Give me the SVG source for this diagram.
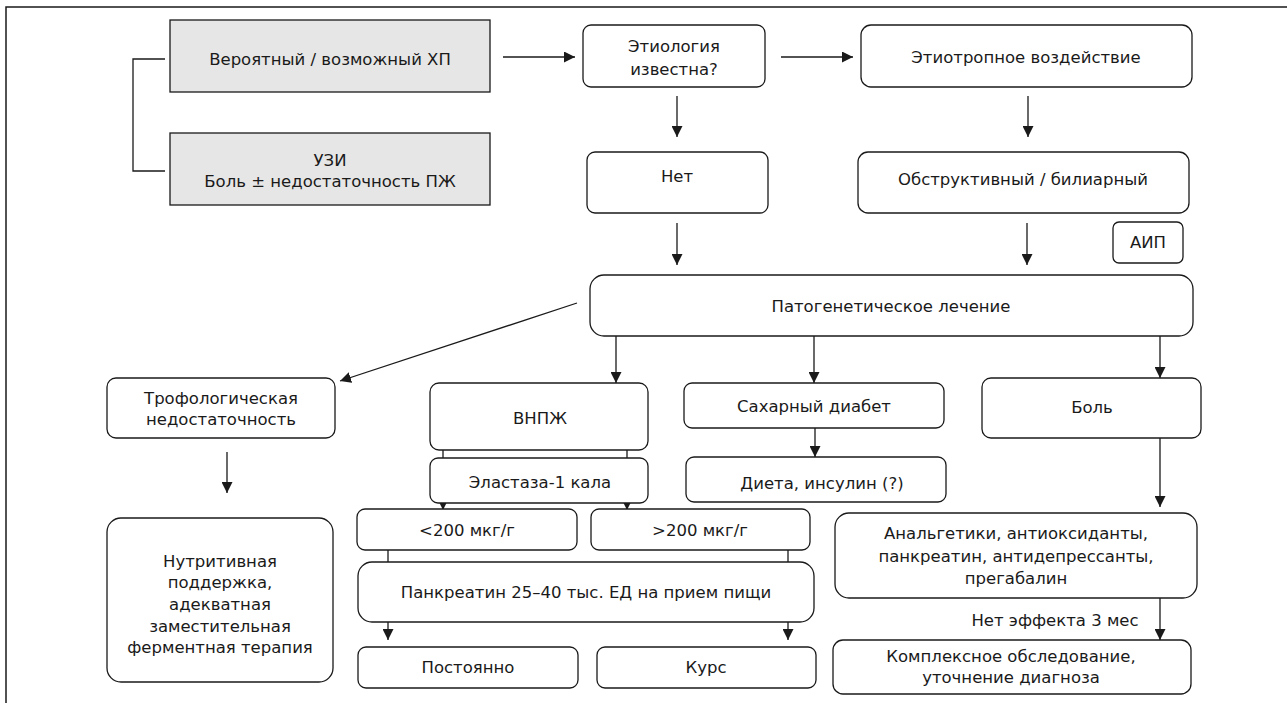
<svg xmlns="http://www.w3.org/2000/svg" width="1287" height="703" viewBox="0 0 1287 703">
<style>
.box{fill:#fff;stroke:#1a1a1a;stroke-width:1.3}
.gray{fill:#e6e6e6;stroke:#1a1a1a;stroke-width:1.3}
.t{font-family:"DejaVu Sans","Liberation Sans",sans-serif;font-size:16.5px;fill:#1a1a1a;text-anchor:middle}
.c{fill:none;stroke:#1a1a1a;stroke-width:1.3}
.a{fill:none;stroke:#1a1a1a;stroke-width:1.3;marker-end:url(#ah)}
</style>
<defs>
<marker id="ah" viewBox="0 0 10 10" refX="10" refY="5" markerWidth="11" markerHeight="11" markerUnits="userSpaceOnUse" orient="auto">
<path d="M0,0 L10,5 L0,10 z" fill="#1a1a1a"/>
</marker>
</defs>
<path d="M6,703 V7 H1287" fill="none" stroke="#1a1a1a" stroke-width="1.5"/>

<g id="connectors">
<path class="c" d="M165,59 H133 V171 H165"/>
<path class="a" d="M503,57 H575"/>
<path class="a" d="M781,57 H853"/>
<path class="a" d="M677,96 V137"/>
<path class="a" d="M1028,96 V137"/>
<path class="a" d="M677,223 V265"/>
<path class="a" d="M1027,223 V265"/>
<path class="a" d="M577,303 L340,381"/>
<path class="a" d="M227,452 V493"/>
<path class="a" d="M616,336 V383"/>
<path class="a" d="M814,336 V383"/>
<path class="a" d="M1160,336 V378"/>
<path class="c" d="M443,450 V458 M627,450 V458"/>
<path class="a" d="M443,503 V510"/>
<path class="a" d="M627,503 V510"/>
<path class="a" d="M815,428 V457"/>
<path class="c" d="M388,550 V562 M788,550 V562"/>
<path class="a" d="M388,622 V640"/>
<path class="a" d="M788,622 V640"/>
<path class="a" d="M1160,438 V507"/>
<path class="a" d="M1160,598 V640"/>
<text class="t" x="1055" y="626">Нет эффекта 3 мес</text>
</g>

<g id="n-probable">
<rect class="gray" x="170" y="20" width="320" height="72"/>
<text class="t" x="330" y="65">Вероятный / возможный ХП</text>
</g>
<g id="n-uzi">
<rect class="gray" x="170" y="133" width="320" height="72"/>
<text class="t" x="330" y="166">УЗИ</text>
<text class="t" x="330" y="187">Боль ± недостаточность ПЖ</text>
</g>
<g id="n-etiology">
<rect class="box" x="583" y="25" width="182" height="62" rx="8"/>
<text class="t" x="674" y="52">Этиология</text>
<text class="t" x="674" y="75">известна?</text>
</g>
<g id="n-etiotrop">
<rect class="box" x="861" y="25" width="331" height="62" rx="10"/>
<text class="t" x="1026" y="63">Этиотропное воздействие</text>
</g>
<g id="n-net">
<rect class="box" x="587" y="152" width="181" height="61" rx="8"/>
<text class="t" x="677" y="182">Нет</text>
</g>
<g id="n-obstr">
<rect class="box" x="858" y="152" width="331" height="61" rx="10"/>
<text class="t" x="1023" y="185">Обструктивный / билиарный</text>
</g>
<g id="n-aip">
<rect class="box" x="1113" y="222" width="70" height="41" rx="6"/>
<text class="t" x="1148" y="248">АИП</text>
</g>
<g id="n-patogen">
<rect class="box" x="590" y="275" width="603" height="61" rx="14"/>
<text class="t" x="891" y="312">Патогенетическое лечение</text>
</g>
<g id="n-trof">
<rect class="box" x="107" y="378" width="228" height="60" rx="9"/>
<text class="t" x="221" y="404">Трофологическая</text>
<text class="t" x="221" y="425">недостаточность</text>
</g>
<g id="n-nutr">
<rect class="box" x="107" y="518" width="226" height="164" rx="14"/>
<text class="t" x="220" y="567">Нутритивная</text>
<text class="t" x="220" y="588">поддержка,</text>
<text class="t" x="220" y="610">адекватная</text>
<text class="t" x="220" y="632">заместительная</text>
<text class="t" x="220" y="653">ферментная терапия</text>
</g>
<g id="n-vnpzh">
<rect class="box" x="430" y="383" width="218" height="67" rx="9"/>
<text class="t" x="540" y="424">ВНПЖ</text>
</g>
<g id="n-elast">
<rect class="box" x="430" y="458" width="218" height="45" rx="8"/>
<text class="t" x="540" y="488">Эластаза-1 кала</text>
</g>
<g id="n-diab">
<rect class="box" x="684" y="383" width="260" height="45" rx="8"/>
<text class="t" x="814" y="412">Сахарный диабет</text>
</g>
<g id="n-dieta">
<rect class="box" x="686" y="457" width="260" height="45" rx="8"/>
<text class="t" x="822" y="489">Диета, инсулин (?)</text>
</g>
<g id="n-lt200">
<rect class="box" x="357" y="509" width="220" height="41" rx="8"/>
<text class="t" x="467" y="536">&lt;200 мкг/г</text>
</g>
<g id="n-gt200">
<rect class="box" x="591" y="509" width="219" height="41" rx="8"/>
<text class="t" x="700" y="536">&gt;200 мкг/г</text>
</g>
<g id="n-pankr">
<rect class="box" x="358" y="562" width="456" height="60" rx="14"/>
<text class="t" x="586" y="598">Панкреатин 25–40 тыс. ЕД на прием пищи</text>
</g>
<g id="n-post">
<rect class="box" x="358" y="647" width="220" height="41" rx="8"/>
<text class="t" x="468" y="673">Постоянно</text>
</g>
<g id="n-kurs">
<rect class="box" x="597" y="647" width="219" height="41" rx="8"/>
<text class="t" x="706" y="673">Курс</text>
</g>
<g id="n-bol">
<rect class="box" x="982" y="378" width="219" height="60" rx="9"/>
<text class="t" x="1092" y="413">Боль</text>
</g>
<g id="n-analg">
<rect class="box" x="835" y="513" width="362" height="85" rx="14"/>
<text class="t" x="1016" y="539">Анальгетики, антиоксиданты,</text>
<text class="t" x="1016" y="562">панкреатин, антидепрессанты,</text>
<text class="t" x="1016" y="584">прегабалин</text>
</g>
<g id="n-kompl">
<rect class="box" x="833" y="640" width="358" height="54" rx="10"/>
<text class="t" x="1011" y="662">Комплексное обследование,</text>
<text class="t" x="1011" y="683">уточнение диагноза</text>
</g>
</svg>
